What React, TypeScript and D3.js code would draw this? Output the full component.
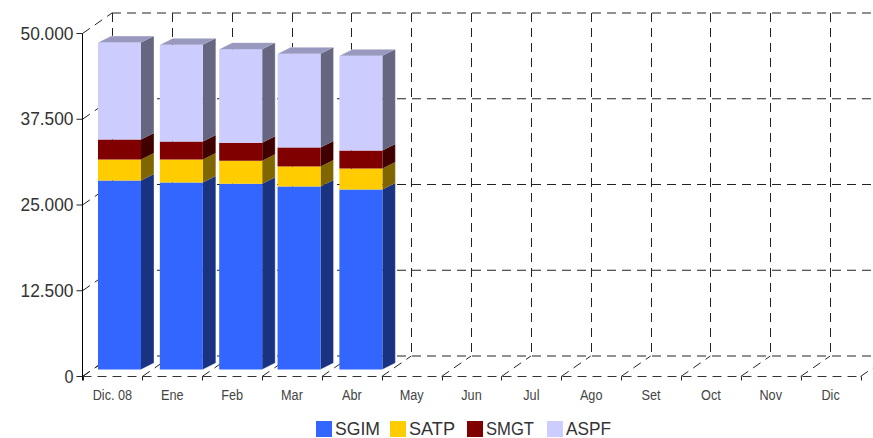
import React from "react";
import * as d3 from "d3";

const months = ["Dic. 08", "Ene", "Feb", "Mar", "Abr", "May", "Jun", "Jul", "Ago", "Set", "Oct", "Nov", "Dic"];
const barMonths = ["Dic. 08", "Ene", "Feb", "Mar", "Abr"];
const SGIM = [27550, 27260, 27080, 26680, 26240];
const SATP = [3060, 3350, 3350, 2920, 3060];
const SMGT = [2920, 2620, 2620, 2770, 2620];
const ASPF = [14140, 14100, 13650, 13660, 13800];
const seriesNames = ["SGIM", "SATP", "SMGT", "ASPF"];
const faceColors = ["#3366FF", "#FFCC00", "#800000", "#CCCCFF"];
const sideColors = ["#1A3380", "#806600", "#400000", "#666680"];
const topColors = ["#1A3380", "#806600", "#400000", "#9999BF"];
const yTicks = [0, 12500, 25000, 37500, 50000];
const yTickLabels = ["0", "12.500", "25.000", "37.500", "50.000"];

const W = 873, H = 438;
const x0 = 82.5, xEnd = 860.5;
const yBase = 376.5, yTop = 33.5;
const backDx = 29.5, backDy = -20.5;
const barDx = 13, barDy = -6.5;
const barW = 43;
const barGapLeft = 17;
const barLift = 7;
const barSnap = [-1.5, 0.5, 0, -1.5, 0.5];
const legendX = [316, 390, 467, 547];
const legendTextW = [45, 46, 48, 45];

const rows = barMonths.map((m, i) => ({ m, SGIM: SGIM[i], SATP: SATP[i], SMGT: SMGT[i], ASPF: ASPF[i] }));
const stacked = d3.stack<any>().keys(seriesNames)(rows);

const x = d3.scaleBand<string>().domain(months).range([x0, xEnd]).padding(0);
const y = d3.scaleLinear().domain([0, 50000]).range([yBase, yTop]);
const edges = months.map((m) => x(m)!).concat([xEnd]);

const DASH = "9 6";
const seg = d3.line();
const font = "'Liberation Sans', Arial, sans-serif";

export default function App() {
  return (
    <svg width={W} height={H} viewBox={`0 0 ${W} ${H}`} style={{ position: "absolute", left: 0, top: 0, background: "#fff" }}>
      {/* back wall */}
      <g fill="none" stroke="#222" strokeWidth={1} strokeDasharray={DASH}>
        {yTicks.map((t) => (
          <path key={"h" + t} d={seg([[x0 + backDx, y(t) + backDy], [W, y(t) + backDy]])!} />
        ))}
        {edges.map((e, i) => (
          <path key={"v" + i} d={seg([[Math.round(e + backDx) + 0.5, y(50000) + backDy], [Math.round(e + backDx) + 0.5, y(0) + backDy]])!} />
        ))}
        {yTicks.map((t) => (
          <path key={"s" + t} d={seg([[x0, y(t)], [x0 + backDx, y(t) + backDy]])!} />
        ))}
        {edges.map((e, i) => (
          <path key={"f" + i} d={seg([[e, yBase], [e + backDx, yBase + backDy]])!} />
        ))}
        <path d={seg([[x0, yBase], [xEnd, yBase]])!} stroke="#333" />
      </g>

      {/* bars */}
      {barMonths.map((m, i) => {
        const bx = x(m)! + barGapLeft + barSnap[i];
        return (
          <g key={m}>
            {stacked.map((s, k) => {
              const yb = y(s[i][0]) - barLift;
              const yt = y(s[i][1]) - barLift;
              return (
                <g key={s.key}>
                  <polygon
                    points={`${bx + barW},${yt} ${bx + barW + barDx},${yt + barDy} ${bx + barW + barDx},${yb + barDy} ${bx + barW},${yb}`}
                    fill={sideColors[k]}
                  />
                  <rect x={bx} y={yt} width={barW} height={yb - yt} fill={faceColors[k]} />
                  {k === stacked.length - 1 && (
                    <polygon
                      points={`${bx},${yt} ${bx + barDx},${yt + barDy} ${bx + barW + barDx},${yt + barDy} ${bx + barW},${yt}`}
                      fill={topColors[k]}
                    />
                  )}
                </g>
              );
            })}
            <path
              d={`M${bx},${y(stacked[3][i][1]) - barLift} L${bx + barDx},${y(stacked[3][i][1]) - barLift + barDy} H${bx + barW + barDx} V${yBase - barLift + barDy} L${bx + barW},${yBase - barLift}`}
              fill="none"
              stroke="#fff"
              strokeOpacity={0.35}
              strokeWidth={1}
            />
          </g>
        );
      })}

      {/* axes */}
      <path d={seg([[x0, yTop], [x0, yBase + 4]])!} stroke="#000" fill="none" />
      {yTicks.map((t, i) => (
        <g key={"yt" + t}>
          <path d={seg([[x0 - 6, y(t)], [x0, y(t)]])!} stroke="#222" fill="none" />
          <text x={73.5} y={y(t) + 6} textAnchor="end" fontFamily={font} fontSize={19} fill="#333" textLength={t === 0 ? 9 : 53} lengthAdjust="spacingAndGlyphs">
            {yTickLabels[i]}
          </text>
        </g>
      ))}
      {edges.map((e, i) => (
        <path key={"xt" + i} d={seg([[Math.round(e) + 0.5, yBase], [Math.round(e) + 0.5, yBase + 4]])!} stroke="#222" fill="none" />
      ))}
      {months.map((m) => (
        <text
          key={m}
          transform={`translate(${x(m)! + x.bandwidth() / 2},400) scale(0.82,1)`}
          textAnchor="middle"
          fontFamily={font}
          fontSize={15.5}
          fill="#444"
        >
          {m}
        </text>
      ))}

      {/* legend */}
      {seriesNames.map((n, i) => (
        <g key={n}>
          <rect x={legendX[i]} y={421} width={16} height={16} fill={faceColors[i]} />
          <text x={legendX[i] + 19} y={435} fontFamily={font} fontSize={19} fill="#333" textLength={legendTextW[i]} lengthAdjust="spacingAndGlyphs">
            {n}
          </text>
        </g>
      ))}
    </svg>
  );
}
